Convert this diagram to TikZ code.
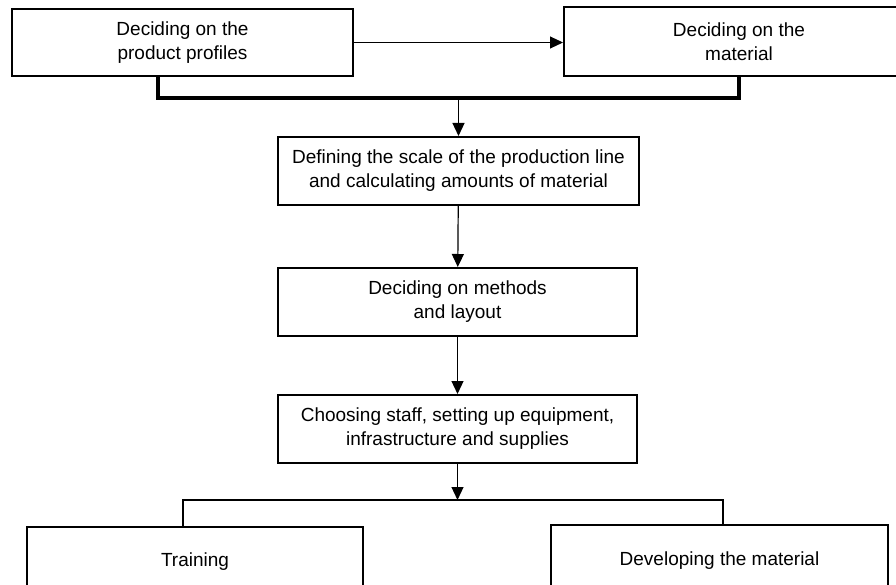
\documentclass[tikz,border=0pt]{standalone}
\usepackage{fontspec}
\setmainfont{Liberation Sans}
\usetikzlibrary{arrows.meta}
\begin{document}
\begin{tikzpicture}[x=1pt,y=-1pt,
		box/.style={draw,line width=2pt,align=center,inner sep=0pt,font=\fontsize{19}{24}\selectfont},
		link/.style={line width=1.2pt,-{Triangle[length=13pt,width=12pt]}}]
		\useasboundingbox (0,0) rectangle (896,585);
		\clip (0,0) rectangle (896,585);
		\node[box,minimum width=341pt,minimum height=67pt] (b1) at (182.5,42.5) {Deciding on the\\product profiles};
		\node[box,minimum width=350pt,minimum height=69pt] (b2) at (739,41.5) {Deciding on the\\material};
		\node[box,minimum width=361pt,minimum height=68pt] (b3) at (458.5,171) {Defining the scale of the production line\\and calculating amounts of material};
		\node[box,minimum width=359pt,minimum height=68pt] (b4) at (457.5,302) {Deciding on methods\\and layout};
		\node[box,minimum width=359pt,minimum height=68pt] (b5) at (457.5,429) {Choosing staff, setting up equipment,\\infrastructure and supplies};
		\node[box,minimum width=336pt,minimum height=70pt] (b6) at (195,562) {Training};
		\node[box,minimum width=337pt,minimum height=72pt] (b7) at (719.5,561) {Developing the material};
		\coordinate (j1) at (458.5,98);
		\coordinate (j2) at (457.5,500);
		\draw[link,line width=1pt] (b1.east) -- (b1.east -| b2.west);
		\draw[line width=3.5pt] ([xshift=-24.5pt]b1.south) |- (j1) -| (b2.south);
		\draw[link] (j1) -- (b3.north);
		\draw[link] (b3) -- (b4);
		\draw[link] (b4) -- (b5);
		\draw[link] (b5) -- (j2);
		\draw[line width=1.5pt] ([xshift=-12pt]b6.north) |- (j2) -| ([xshift=3.5pt]b7.north);
	\end{tikzpicture}
\end{document}
